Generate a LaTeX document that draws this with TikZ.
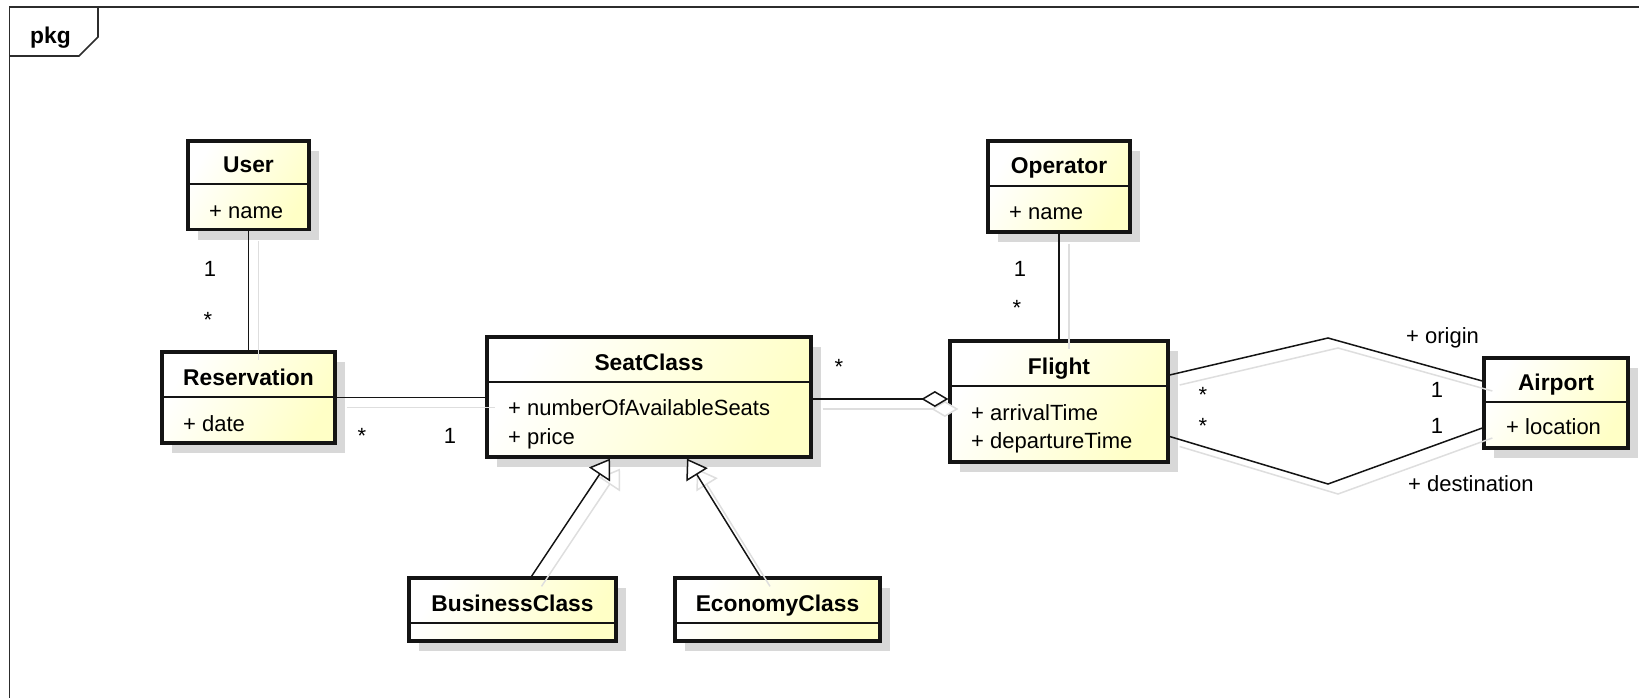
\documentclass[tikz,border=0pt]{standalone}
\usepackage{fontspec}
\setmainfont{Liberation Sans}
\usetikzlibrary{arrows.meta,calc,fit,shadows}

\definecolor{cream}{RGB}{255,255,198}
\definecolor{boxshadow}{RGB}{216,216,216}
\definecolor{lineshadow}{RGB}{222,222,222}
\definecolor{ink}{RGB}{20,20,20}

\tikzset{
  classbox/.style={draw=ink, line width=3.3pt, inner sep=0pt,
    left color=white, right color=cream, shading angle=60,
    general shadow={fill=boxshadow, shadow xshift=10pt, shadow yshift=-10pt}},
  divider/.style={draw=ink, line width=1.2pt},
  classname/.style={font=\fontsize{22.8}{26}\selectfont\bfseries, inner sep=0pt, anchor=base},
  attr/.style={font=\fontsize{22}{26}\selectfont, inner sep=0pt, anchor=base west},
  mult/.style={font=\fontsize{22}{26}\selectfont, inner sep=0pt, anchor=base},
  role/.style={font=\fontsize{22}{26}\selectfont, inner sep=0pt, anchor=base west},
  conn/.style={draw=ink, line width=1.5pt},
  connshadow/.style={draw=lineshadow, line width=1.5pt, transform canvas={xshift=10pt, yshift=-10pt}},
  gentip/.style={-{Triangle[length=19pt, width=25pt, fill=white]}},
  aggtip/.style={-{Diamond[length=27pt, width=16pt, fill=white]}},
  frame/.style={draw=ink!90, line width=1.6pt},
}

% class box: name, left, top, right, bottom, divider y, title
\newcommand\umlclass[7]{%
  \coordinate (#1-nw) at (#2,#3);
  \coordinate (#1-se) at (#4,#5);
  \node[classbox, fit=(#1-nw)(#1-se)] (#1) {};
  \draw[divider] (#2,#6) -- (#4,#6);
  \node[classname] (#1-name) at ({(#2+#4)/2},{(#3+#6)/2+10.5}) {#7};
}
% attribute line: name, x, baseline, text
\newcommand\umlattr[4]{\node[attr] (#1) at (#2,#3) {#4};}
% connector drawn with its light offset shadow
\newcommand\connector[2]{\draw[connshadow,#1] #2; \draw[conn,#1] #2;}

\begin{document}
\begin{tikzpicture}[x=1pt, y=-1pt, line join=miter]
  \fill[white] (0,0) rectangle (1639,698);
  \useasboundingbox (0,0) rectangle (1639,698);

  % package frame
  \draw[frame] (9.5,698) -- (9.5,7) -- (1639,7);
  \draw[frame] (9.5,56) -- (79,56) -- (98,37) -- (98,7);
  \node[classname] (pkg) at (50.5,43.3) {pkg};

  % classes
  \umlclass{user}{188}{141}{309}{229.5}{184}{User}
  \umlattr{user-a1}{209}{218}{+ name}

  \umlclass{res}{162}{352}{335}{443}{397}{Reservation}
  \umlattr{res-a1}{183}{431.5}{+ date}

  \umlclass{seat}{487}{337}{811}{457}{382}{SeatClass}
  \umlattr{seat-a1}{508}{415}{+ numberOfAvailableSeats}
  \umlattr{seat-a2}{508}{444}{+ price}

  \umlclass{business}{409}{578}{616}{641}{623}{BusinessClass}
  \umlclass{economy}{675}{578}{880}{641}{623}{EconomyClass}

  \umlclass{operator}{988}{141}{1130}{232}{186}{Operator}
  \umlattr{operator-a1}{1009}{219}{+ name}

  \umlclass{flight}{950}{341}{1168}{462}{386}{Flight}
  \umlattr{flight-a1}{971}{420}{+ arrivalTime}
  \umlattr{flight-a2}{971}{448.5}{+ departureTime}

  \umlclass{airport}{1484}{358}{1628}{448}{402}{Airport}
  \umlattr{airport-a1}{1506}{434.5}{+ location}

  % connector end points and bends
  \coordinate (aggstart) at ([yshift=-2pt]seat.east);
  \coordinate (ostart) at ([yshift=26.5pt]flight.east);
  \coordinate (oend) at ([yshift=22pt]airport.west);
  \coordinate (obend) at (1328,338);
  \coordinate (dstart) at ([yshift=-35pt]flight.east);
  \coordinate (dend) at ([yshift=-25pt]airport.west);
  \coordinate (dbend) at (1328,484);

  % associations
  \connector{}{(user.south) -- (res.north)}
  \connector{}{(res.east) -- (res.east -| seat.west)}
  \connector{}{(operator.south) -- (flight.north)}
  \connector{}{(ostart) -- (obend) -- (oend)}
  \connector{}{(dstart) -- (dbend) -- (dend)}
  % aggregation
  \connector{aggtip}{(aggstart) -- (aggstart -| flight.west)}
  % generalizations
  \connector{gentip}{([xshift=19pt]business.north) -- ([xshift=-39pt]seat.south)}
  \connector{gentip}{([xshift=-17.5pt]economy.north) -- ([xshift=38pt]seat.south)}

  % multiplicities
  \node[mult] (m-user) at (210,276) {1};
  \node[mult] (m-res) at (208,327) {*};
  \node[mult] (m-res2) at (362,443) {*};
  \node[mult] (m-seat) at (450,443) {1};
  \node[mult] (m-seat2) at (839,374) {*};
  \node[mult] (m-op) at (1020,276.5) {1};
  \node[mult] (m-fl) at (1017,315) {*};
  \node[mult] (m-fl-o) at (1203,402) {*};
  \node[mult] (m-fl-d) at (1203,433.5) {*};
  \node[mult] (m-ap-o) at (1437,397) {1};
  \node[mult] (m-ap-d) at (1437,433) {1};

  % role names
  \node[role] (r-origin) at (1406,343) {+ origin};
  \node[role] (r-dest) at (1408,491) {+ destination};
\end{tikzpicture}
\end{document}
